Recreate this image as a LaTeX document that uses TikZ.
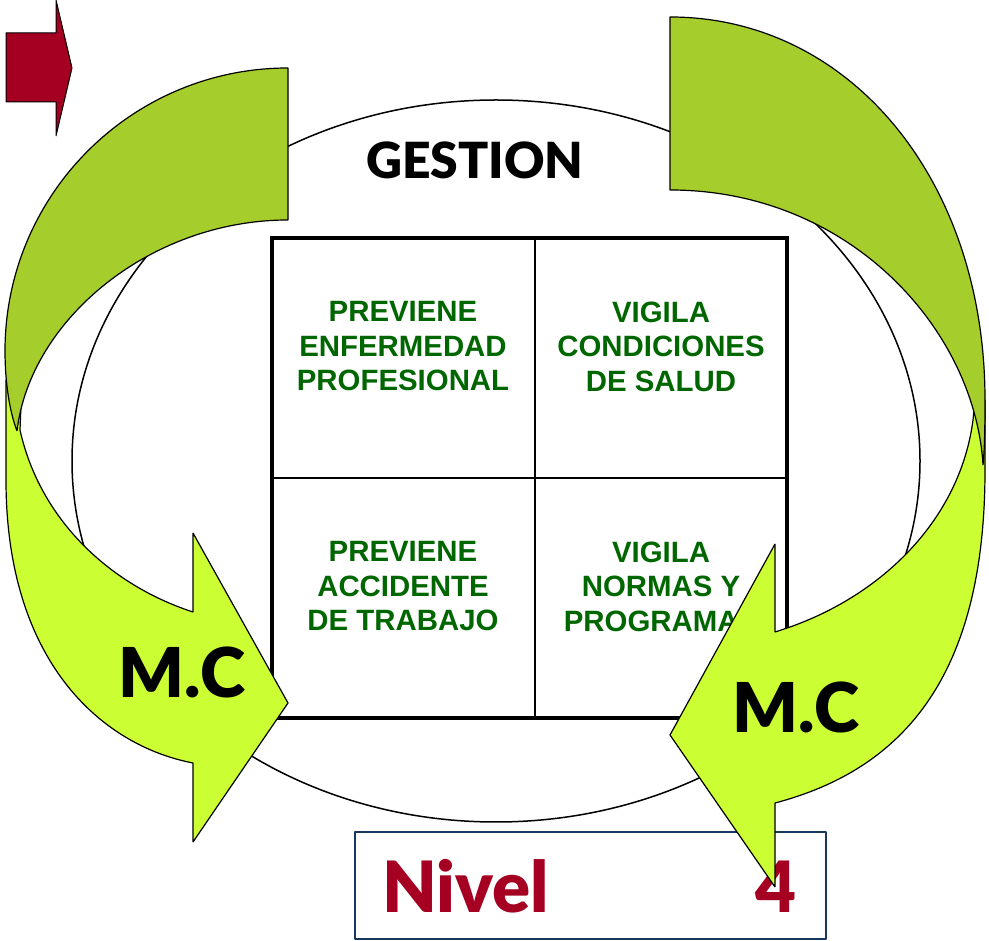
\documentclass[tikz,border=0pt]{standalone}
\usepackage{fontspec}
\setmainfont{Liberation Sans}
\newfontfamily\gillfont{Lato}[BoldFont={Lato Black}]
\definecolor{celltext}{RGB}{0,102,0}
\definecolor{olivefill}{RGB}{165,205,43}
\definecolor{limefill}{RGB}{204,255,51}
\definecolor{nivelred}{RGB}{165,0,33}
\definecolor{nivelblue}{RGB}{23,55,94}
\begin{document}
\begin{tikzpicture}[>=latex,line join=bevel,
  cell/.style={text=celltext,align=center,inner sep=0pt,font=\bfseries\fontsize{29.5}{34.6}\selectfont},
  gtitle/.style={inner sep=0pt,font=\gillfont\bfseries\fontsize{50}{54}\selectfont},
  mclabel/.style={inner sep=0pt,font=\gillfont\bfseries\fontsize{69}{74}\selectfont},
  nivellabel/.style={inner sep=0pt,text=nivelred,font=\gillfont\bfseries\fontsize{71}{76}\selectfont},
  oliveband/.style={fill=olivefill,draw=black,line width=1.2bp},
  limearrow/.style={fill=limefill,draw=black,line width=1.2bp},
  ]
\useasboundingbox (0bp,0bp) rectangle (989bp,941bp);
%%
\draw [black,line width=1.5bp] (496bp,480bp) ellipse [x radius=424bp, y radius=361bp];
%
\draw [black,line width=1.5bp] (535bp,223bp) -- (535bp,703bp);
\draw [black,line width=1.5bp] (272bp,463bp) -- (787bp,463bp);
\draw [black,line width=4.5bp,line join=miter] (272bp,223bp) rectangle (787bp,703bp);
  \node (prev*enf) at (403bp,594.5bp) [cell] {PREVIENE\\ENFERMEDAD\\PROFESIONAL};
  \node (vig*cond) at (661bp,594.5bp) [cell] {VIGILA\\CONDICIONES\\DE SALUD};
  \node (prev*acc) at (403bp,354.5bp) [cell] {PREVIENE\\ACCIDENTE\\DE TRABAJO};
  \node (vig*norm) at (661bp,354.5bp) [cell] {VIGILA\\NORMAS Y\\PROGRAMAS};
  \node (gestion) at (475bp,781bp) [gtitle] {GESTION};
%
\draw [nivelblue,fill=white,line width=1.5bp] (355bp,2bp) rectangle (826bp,109bp);
  \node (nivel) at (382bp,29bp) [nivellabel,anchor=base west] {Nivel};
  \node (nivel*4) at (797bp,29bp) [nivellabel,anchor=base east] {4};
%
\draw [fill=nivelred,draw=black,line width=1bp] (6bp,908bp) -- (56bp,908bp) -- (56bp,941bp) -- (72bp,873bp)
  -- (56bp,805bp) -- (56bp,839bp) -- (6bp,839bp) -- cycle;
%
\draw [limearrow] (6bp,561bp) -- (6bp,461bp) ..controls (6bp,281bp) and (100bp,196bp) .. (193bp,178bp)
  -- (193bp,99bp) -- (288bp,238bp) -- (193bp,408bp) -- (193bp,329bp)
  ..controls (110bp,356bp) and (40bp,421bp) .. (20bp,511bp) -- (22bp,561bp) -- cycle;
\draw [limearrow] (975bp,541bp) -- (985bp,541bp) -- (985bp,471bp) ..controls (985bp,261bp) and (900bp,171bp) .. (775bp,138bp)
  -- (775bp,54bp) -- (670bp,206bp) -- (775bp,397bp) -- (775bp,309bp)
  ..controls (880bp,341bp) and (960bp,421bp) .. (973bp,521bp) -- cycle;
%
\draw [oliveband] (288bp,873bp) ..controls (131.7bp,873bp) and (5bp,746.3bp) .. (5bp,590bp)
  ..controls (5bp,561bp) and (9bp,531bp) .. (17bp,510bp)
  ..controls (30bp,621bp) and (150bp,721bp) .. (288bp,721bp) -- cycle;
\draw [oliveband] (670bp,924bp) ..controls (850bp,924bp) and (985bp,761bp) .. (985bp,541bp)
  ..controls (985bp,501bp) and (984bp,486bp) .. (983bp,476bp)
  ..controls (975bp,611bp) and (850bp,751bp) .. (670bp,751bp) -- cycle;
%
  \node (mc*left) at (182bp,269bp) [mclabel] {M.C};
  \node (mc*right) at (796bp,234bp) [mclabel] {M.C};
%
\end{tikzpicture}
\end{document}
